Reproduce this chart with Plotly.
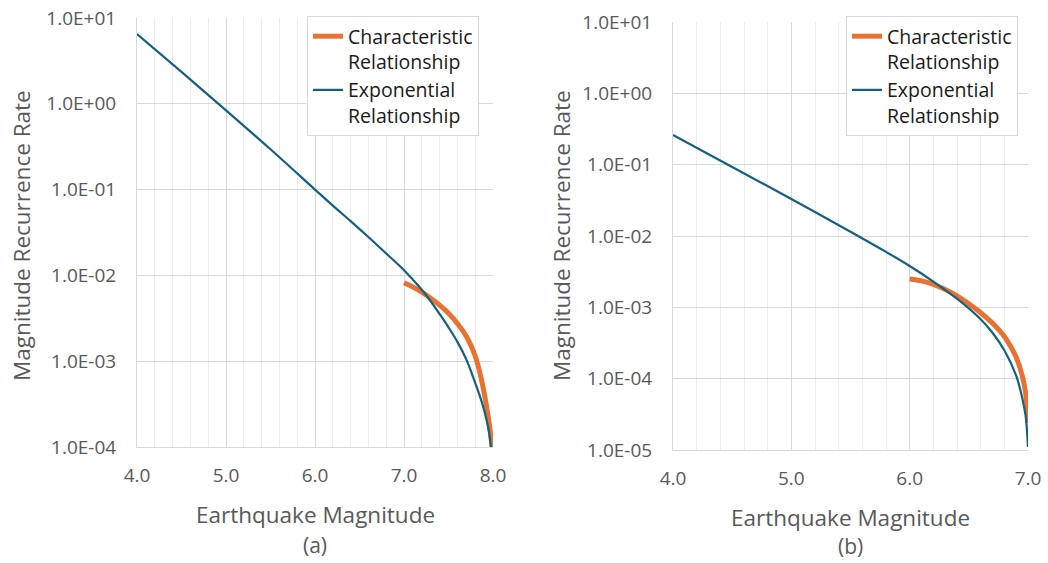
import plotly.graph_objects as go

# ---------------- data ----------------
# Panel (a)
a_exp_m = [4.0, 4.5, 5.0, 5.5, 6.0, 6.2, 6.4, 6.6, 6.8, 7.0, 7.1, 7.2, 7.3, 7.4, 7.5, 7.6, 7.7, 7.8, 7.85, 7.9, 7.95, 7.98, 8.0]
a_exp_r = [6.5, 2.35, 0.84, 0.295, 0.10, 0.065, 0.043, 0.028, 0.018, 0.0115, 0.0089, 0.0068, 0.005, 0.00355, 0.00248,
           0.00168, 0.00105, 0.00056, 0.0004, 0.00027, 0.00016, 0.00009, 0.000001]
a_char_m = [7.0, 7.1, 7.2, 7.3, 7.4, 7.5, 7.6, 7.7, 7.8, 7.87, 7.92, 7.96, 8.0]
a_char_r = [0.0082, 0.00731, 0.00637, 0.00542, 0.00451, 0.00362, 0.00275, 0.00195, 0.00115, 0.00061, 0.00033, 0.00018,
            0.00008]

# Panel (b)
b_exp_m = [4.0, 4.5, 5.0, 5.5, 5.8, 6.0, 6.2, 6.4, 6.6, 6.7, 6.8, 6.9, 6.95, 6.98, 7.0]
b_exp_r = [0.26, 0.093, 0.033, 0.0115, 0.006, 0.0038, 0.0023, 0.00132, 0.00068, 0.00044, 0.00025, 0.00011, 0.000055,
           0.00003, 0.000011]
b_char_m = [6.0, 6.1, 6.2, 6.3, 6.4, 6.5, 6.6, 6.7, 6.75, 6.8, 6.85, 6.9, 6.95, 6.98, 7.0]
b_char_r = [0.0025, 0.00235, 0.0021, 0.00178, 0.00145, 0.00112, 0.00084, 0.0006, 0.00049, 0.00039, 0.00029, 0.0002,
            0.000112, 0.000063, 0.000024]

series_names = ["Characteristic<br>Relationship", "Exponential<br>Relationship"]

a_ytick_vals = [1e-4, 1e-3, 1e-2, 1e-1, 1e0, 1e1]
a_ytick_text = ["1.0E-04", "1.0E-03", "1.0E-02", "1.0E-01", "1.0E+00", "1.0E+01"]
b_ytick_vals = [1e-5, 1e-4, 1e-3, 1e-2, 1e-1, 1e0, 1e1]
b_ytick_text = ["1.0E-05", "1.0E-04", "1.0E-03", "1.0E-02", "1.0E-01", "1.0E+00", "1.0E+01"]

x_title = "Earthquake Magnitude"
y_title = "Magnitude Recurrence Rate"
panel_labels = ["(a)", "(b)"]

# ---------------- styling ----------------
ORANGE = "#E97132"
BLUE = "#156082"
GRAY_TXT = "#595959"
GRID = "#d9d9d9"
MINOR = "#ececec"
FONT = "Open Sans"
SMOOTH = 1.0

W, H = 1048, 563

fig = go.Figure()

fig.add_trace(go.Scatter(x=a_char_m, y=a_char_r, mode="lines", name=series_names[0],
                         line=dict(color=ORANGE, width=5, shape="spline", smoothing=SMOOTH),
                         xaxis="x", yaxis="y", legend="legend"))
fig.add_trace(go.Scatter(x=a_exp_m, y=a_exp_r, mode="lines", name=series_names[1],
                         line=dict(color=BLUE, width=2.2, shape="spline", smoothing=SMOOTH),
                         xaxis="x", yaxis="y", legend="legend"))
fig.add_trace(go.Scatter(x=b_char_m, y=b_char_r, mode="lines", name=series_names[0],
                         line=dict(color=ORANGE, width=5, shape="spline", smoothing=SMOOTH),
                         xaxis="x2", yaxis="y2", legend="legend2"))
fig.add_trace(go.Scatter(x=b_exp_m, y=b_exp_r, mode="lines", name=series_names[1],
                         line=dict(color=BLUE, width=2.2, shape="spline", smoothing=SMOOTH),
                         xaxis="x2", yaxis="y2", legend="legend2"))


def px_x(p):
    return p / W


def px_y(p):
    return (H - p) / H


xcommon = dict(dtick=1, tickformat=".1f", showgrid=True, gridcolor=GRID, gridwidth=1,
               minor=dict(dtick=0.2, showgrid=True, gridcolor=MINOR, gridwidth=1),
               showline=True, linecolor=GRID, linewidth=1, zeroline=False, ticks="", automargin=False,
               tickfont=dict(family=FONT, size=19, color=GRAY_TXT), ticklabelstandoff=11)
ycommon = dict(type="log", showgrid=True, gridcolor=GRID, gridwidth=1, showline=True, linecolor=GRID,
               linewidth=1, zeroline=False, ticks="", automargin=False,
               tickfont=dict(family=FONT, size=19, color=GRAY_TXT), ticklabelstandoff=16)

legend_common = dict(xanchor="left", yanchor="top", bgcolor="white", bordercolor=GRID, borderwidth=1,
                     font=dict(family=FONT, size=19.5, color="#1a1a1a"), valign="top",
                     tracegroupgap=0, itemwidth=30)

fig.update_layout(
    width=W, height=H,
    margin=dict(l=0, r=0, t=0, b=0, autoexpand=False),
    paper_bgcolor="white", plot_bgcolor="white",
    font=dict(family=FONT, color=GRAY_TXT),
    xaxis=dict(xcommon, domain=[px_x(137), px_x(493)], anchor="y", range=[4, 8]),
    yaxis=dict(ycommon, domain=[px_y(447), px_y(18)], anchor="x", range=[-4, 1],
               tickvals=a_ytick_vals, ticktext=a_ytick_text),
    xaxis2=dict(xcommon, domain=[px_x(673), px_x(1028)], anchor="y2", range=[4, 7]),
    yaxis2=dict(ycommon, domain=[px_y(450), px_y(22)], anchor="x2", range=[-5, 1],
                tickvals=b_ytick_vals, ticktext=b_ytick_text),
    legend=dict(legend_common, x=px_x(307), y=px_y(16)),
    legend2=dict(legend_common, x=px_x(846), y=px_y(16)),
    showlegend=True,
)

annots = []
for cx, cy_t, cy_l, lab in [(315, 514, 545, panel_labels[0]), (850, 517, 546, panel_labels[1])]:
    annots.append(dict(text=x_title, x=px_x(cx), y=px_y(cy_t), xref="paper", yref="paper",
                       showarrow=False, font=dict(family=FONT, size=22.5, color=GRAY_TXT),
                       xanchor="center", yanchor="middle"))
    annots.append(dict(text=lab, x=px_x(cx), y=px_y(cy_l), xref="paper", yref="paper",
                       showarrow=False, font=dict(family=FONT, size=21, color=GRAY_TXT),
                       xanchor="center", yanchor="middle"))
for cx in [22, 562]:
    annots.append(dict(text=y_title, x=px_x(cx), y=px_y(236), xref="paper", yref="paper",
                       showarrow=False, textangle=-90, font=dict(family=FONT, size=22.5, color=GRAY_TXT),
                       xanchor="center", yanchor="middle"))
fig.update_layout(annotations=annots)

fig.write_html("out.html")
